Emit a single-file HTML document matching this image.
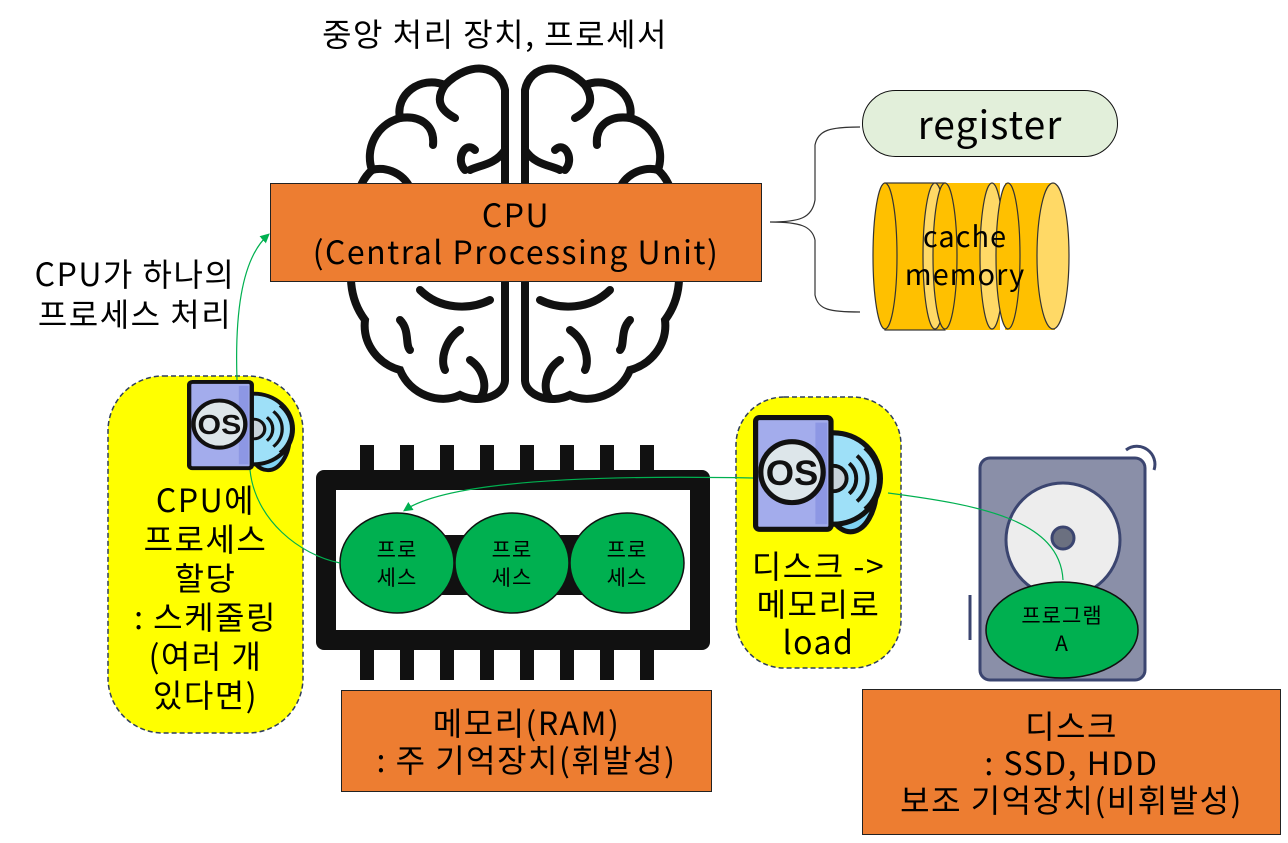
<!DOCTYPE html>
<html><head><meta charset="utf-8"><style>
body{margin:0;width:1288px;height:843px;background:#fff;overflow:hidden;position:relative;font-family:"Noto Sans CJK KR","Liberation Sans",sans-serif;}
.a{position:absolute;}
.box{position:absolute;background:#ED7D31;border:1.5px solid #222;box-sizing:border-box;text-align:center;color:#000;font-size:32px;letter-spacing:1.5px;line-height:37px;display:flex;flex-direction:column;justify-content:center;}
.t{position:absolute;font-size:32px;letter-spacing:1.5px;color:#000;text-align:center;white-space:nowrap;}
</style></head><body>
<svg class="a" style="left:0;top:0" width="1288" height="843">
<defs>
<marker id="ar" markerWidth="8" markerHeight="8" refX="6" refY="4" orient="auto"><path d="M0,0 L8,4 L0,8z" fill="#00B050"/></marker>
<g id="os">
<rect x="55" y="22" width="40" height="70" rx="35" fill="#7FD3F5" stroke="#111" stroke-width="4"/>
<circle cx="62" cy="50" r="36" fill="#9EE0F8" stroke="#111" stroke-width="4"/>
<circle cx="62" cy="50" r="10" fill="#C8D3DA" stroke="#111" stroke-width="3"/>
<path d="M74,38 a16,16 0 0 1 0,24 M80,32 a24,24 0 0 1 0,36 M86,26 a32,32 0 0 1 0,48" fill="none" stroke="#111" stroke-width="3"/>
<rect x="2" y="2" width="58" height="88" rx="3" fill="#A3ACEC" stroke="#111" stroke-width="4"/>
<rect x="48" y="6" width="9" height="80" fill="#8D97E4"/>
<circle cx="30" cy="45" r="24" fill="#DDE6EA" stroke="#111" stroke-width="4"/>
<text x="30" y="55" font-size="28" font-weight="bold" text-anchor="middle" font-family="Liberation Sans" fill="#111">OS</text>
</g>
</defs>
<g fill="none" stroke="#111" stroke-width="8" stroke-linecap="round">
<path d="M505,90 C500,65 470,60 445,85 C420,75 395,95 400,118 C375,125 365,150 372,170 C355,185 352,215 360,240 C345,270 350,300 365,320 C362,345 380,365 400,370 C410,395 440,405 460,395 C480,405 505,395 505,380 Z"/>
<path d="M525,90 C530,65 560,60 585,85 C610,75 635,95 630,118 C655,125 665,150 658,170 C675,185 678,215 670,240 C685,270 680,300 665,320 C668,345 650,365 630,370 C620,395 590,405 570,395 C550,405 525,395 525,380 Z"/>
<path d="M445,85 C435,100 440,110 455,118 M400,118 C420,115 435,125 433,145 M372,170 C390,165 410,178 412,195 M475,150 C465,140 455,160 465,170 M505,150 C495,165 480,165 470,170"/>
<path d="M585,85 C595,100 590,110 575,118 M630,118 C610,115 595,125 597,145 M658,170 C640,165 620,178 618,195 M555,150 C565,140 575,160 565,170 M525,150 C535,165 550,165 560,170"/>
<path d="M420,290 C440,310 470,310 490,300 M400,320 C410,330 405,345 410,350 M460,330 C445,340 440,360 445,370 M470,360 C485,370 488,390 480,398"/>
<path d="M610,290 C590,310 560,310 540,300 M630,320 C620,330 625,345 620,350 M570,330 C585,340 590,360 585,370 M560,360 C545,370 542,390 550,398"/>
</g>
<path d="M770,222 C800,222 812,218 815,200 L815,145 C818,130 830,127 860,127 M815,240 L815,295 C818,310 830,312 860,312 M770,222 C800,222 812,226 815,240" fill="none" stroke="#333" stroke-width="1.2"/>
<g stroke="#333" stroke-width="1.2">
<rect x="885" y="183" width="60" height="147" fill="#FFC000"/><ellipse cx="885" cy="256" rx="12" ry="73" fill="#FFC000"/><ellipse cx="935" cy="256" rx="12" ry="73" fill="#FFD966"/>
<rect x="945" y="183" width="55" height="147" fill="#FFC000" stroke="none"/><ellipse cx="945" cy="256" rx="12" ry="73" fill="#FFC000"/><ellipse cx="992" cy="256" rx="12" ry="73" fill="#FFD966"/>
<rect x="1005" y="183" width="50" height="147" fill="#FFC000" stroke="none"/><ellipse cx="1008" cy="256" rx="12" ry="73" fill="#FFC000"/><ellipse cx="1053" cy="256" rx="16" ry="73" fill="#FFD966"/>
</g>
<rect x="108" y="376" width="195" height="357" rx="55" fill="#FFFF00" stroke="#2F3E5C" stroke-width="1.5" stroke-dasharray="5,3"/>
<rect x="736" y="397" width="165" height="271" rx="48" fill="#FFFF00" stroke="#2F3E5C" stroke-width="1.5" stroke-dasharray="5,3"/>
<g fill="#111">
<rect x="316" y="470" width="394" height="180" rx="8"/>
<rect x="360" y="445" width="14" height="30"/><rect x="400" y="445" width="14" height="30"/><rect x="440" y="445" width="14" height="30"/><rect x="480" y="445" width="14" height="30"/><rect x="520" y="445" width="14" height="30"/><rect x="560" y="445" width="14" height="30"/><rect x="600" y="445" width="14" height="30"/><rect x="640" y="445" width="14" height="30"/>
<rect x="360" y="645" width="14" height="35"/><rect x="400" y="645" width="14" height="35"/><rect x="440" y="645" width="14" height="35"/><rect x="480" y="645" width="14" height="35"/><rect x="520" y="645" width="14" height="35"/><rect x="560" y="645" width="14" height="35"/><rect x="600" y="645" width="14" height="35"/><rect x="640" y="645" width="14" height="35"/>
</g>
<rect x="336" y="490" width="354" height="140" fill="#fff"/>
<rect x="440" y="535" width="150" height="60" fill="#111"/>
<g fill="#00B050" stroke="#111" stroke-width="1.5">
<ellipse cx="397" cy="563" rx="57" ry="50"/><ellipse cx="512" cy="563" rx="57" ry="50"/><ellipse cx="627" cy="563" rx="57" ry="50"/>
</g>
<path d="M1126,450 a18,18 0 0 1 28,20" fill="none" stroke="#3B4570" stroke-width="3"/>
<rect x="980" y="458" width="165" height="222" rx="10" fill="#8A8FA8" stroke="#3B4570" stroke-width="3"/>
<line x1="970" y1="595" x2="970" y2="640" stroke="#3B4570" stroke-width="3"/>
<circle cx="1063" cy="540" r="57" fill="#EDEDED" stroke="#3B4570" stroke-width="3"/>
<circle cx="1063" cy="538" r="11" fill="#6B7080" stroke="#3B4570" stroke-width="3"/>
<ellipse cx="1062" cy="630" rx="76" ry="48" fill="#00B050" stroke="#111" stroke-width="1.5"/>
<g transform="translate(187,380) scale(1.08 0.98)"><use href="#os"/></g>
<g transform="translate(753,415) scale(1.3 1.27)"><use href="#os"/></g>
<g fill="none" stroke="#00B050" stroke-width="1.2">
<path d="M753,478 C600,475 450,480 405,510" marker-end="url(#ar)"/>
<path d="M888,493 C980,505 1060,520 1063,580"/>
<path d="M237,380 C235,320 240,260 268,235" marker-end="url(#ar)"/>
<path d="M250,470 C255,520 300,555 340,563"/>
</g>
</svg>
<div class="t" style="left:270px;top:10px;width:450px;">중앙 처리 장치, 프로세서</div>
<div class="box" style="left:270px;top:183px;width:492px;height:99px;"><div>CPU</div><div>(Central Processing Unit)</div></div>
<div class="a" style="left:862px;top:90px;width:256px;height:67px;border:1.5px solid #111;border-radius:34px;background:#E2EFDA;box-sizing:border-box;font-size:39px;letter-spacing:1px;text-align:center;line-height:64px;">register</div>
<div class="t" style="left:870px;top:216px;width:190px;font-size:29px;letter-spacing:1px;line-height:38px;">cache<br>memory</div>
<div class="t" style="left:5px;top:253px;width:260px;line-height:40px;">CPU가 하나의<br>프로세스 처리</div>
<div class="t" style="left:98px;top:480px;width:215px;line-height:39px;">CPU에<br>프로세스<br>할당<br>: 스케줄링<br>(여러 개<br>있다면)</div>
<div class="t" style="left:340px;top:535px;width:114px;font-size:21px;letter-spacing:1px;line-height:28px;">프로<br>세스</div>
<div class="t" style="left:455px;top:535px;width:114px;font-size:21px;letter-spacing:1px;line-height:28px;">프로<br>세스</div>
<div class="t" style="left:570px;top:535px;width:114px;font-size:21px;letter-spacing:1px;line-height:28px;">프로<br>세스</div>
<div class="t" style="left:726px;top:546px;width:185px;line-height:38px;">디스크 -&gt;<br>메모리로<br>load</div>
<div class="t" style="left:986px;top:601px;width:152px;font-size:21px;letter-spacing:1px;line-height:28px;">프로그램<br>A</div>
<div class="box" style="left:341px;top:690px;width:371px;height:102px;"><div>메모리(RAM)</div><div>: 주 기억장치(휘발성)</div></div>
<div class="box" style="left:862px;top:689px;width:419px;height:146px;"><div>디스크</div><div>: SSD, HDD</div><div>보조 기억장치(비휘발성)</div></div>
</body></html>
